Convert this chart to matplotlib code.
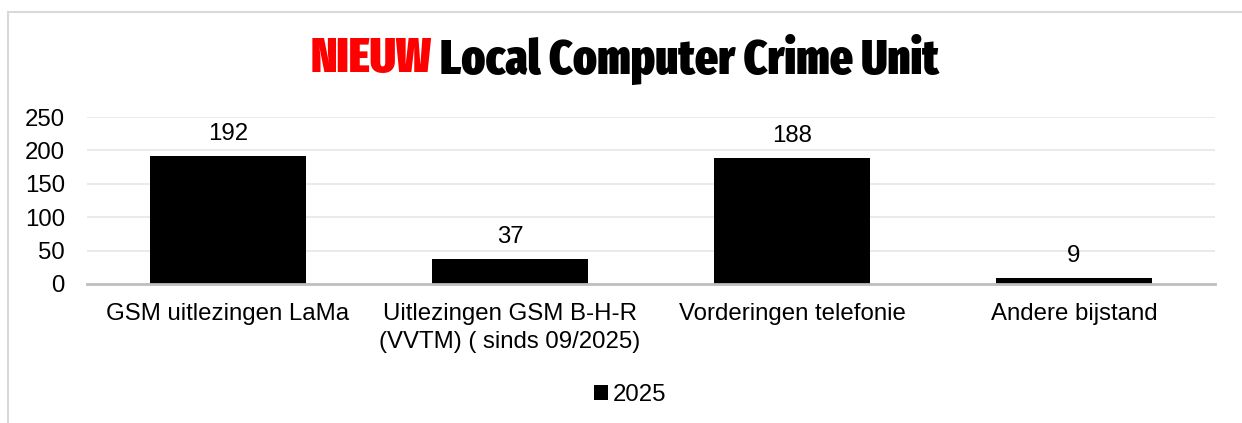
import matplotlib
matplotlib.use("Agg")
import matplotlib.pyplot as plt
from matplotlib.patches import Rectangle
from matplotlib import font_manager

categories = ["GSM uitlezingen LaMa", "Uitlezingen GSM B-H-R\n(VVTM) ( sinds 09/2025)",
              "Vorderingen telefonie", "Andere bijstand"]
values = [192, 37, 188, 9]
series_name = "2025"
yticks = [0, 50, 100, 150, 200, 250]

W, H = 1242, 423
fig = plt.figure(figsize=(W / 100, H / 100), dpi=100)
fig.patch.set_facecolor("white")

fig.add_artist(Rectangle((8 / W, -0.01), 1.5, (H - 12) / H + 0.01, transform=fig.transFigure,
                         fill=False, edgecolor="#d9d9d9", linewidth=1.5))

base = "Liberation Sans"
fs = 17.3
ax = fig.add_axes([87 / W, 1 - 284 / H, (1215 - 87) / W, (284 - 117) / H])
x = range(len(categories))
bars = ax.bar(x, values, width=0.555, color="black", label=series_name, zorder=3)
ax.set_xlim(-0.5, len(categories) - 0.5)
ax.set_ylim(0, 250)
ax.set_yticks(yticks)
ax.set_yticklabels([str(t) for t in yticks], fontsize=fs, family=base)
ax.set_xticks(list(x))
ax.set_xticklabels(categories, fontsize=fs, family=base, linespacing=1.3, va="top")
ax.tick_params(axis="both", length=0)
ax.tick_params(axis="x", pad=14)
ax.tick_params(axis="y", pad=16)
ax.grid(axis="y", color="#e6e6e6", linewidth=1.2, zorder=0)
for s in ["top", "right", "left"]:
    ax.spines[s].set_visible(False)
ax.spines["bottom"].set_color("#bfbfbf")
ax.spines["bottom"].set_linewidth(2)
ax.spines["bottom"].set_zorder(4)

for b, v in zip(bars, values):
    ax.annotate(str(v), (b.get_x() + b.get_width() / 2, v), xytext=(0, 8),
                textcoords="offset points", ha="center", va="bottom", fontsize=fs, family=base)

leg = fig.legend(handles=[bars], labels=[series_name], loc="center", bbox_to_anchor=(630 / W, 1 - 395 / H),
                 frameon=False, prop={"family": base, "size": fs},
                 handlelength=0.6, handleheight=0.6, handletextpad=0.2)

# pick a condensed heavy font for the title if one is installed
cands = []
for f in font_manager.fontManager.ttflist:
    nm = f.name
    st = str(f.stretch)
    w = f.weight if isinstance(f.weight, int) else 700
    fn = f.fname.split('/')[-1]
    if "italic" in fn.lower() or f.style != "normal":
        continue
    if ("condensed" in st or "narrow" in nm.lower() or "Condensed" in fn) and (w >= 700):
        score = 0 if fn == "FiraSansExtraCondensed-Black.ttf" else (1 if "Extra" in fn else 2)
        cands.append((score, -w, f.fname))
title_props = {"family": "DejaVu Sans", "weight": "bold"}
if cands:
    cands.sort()
    title_props = {"fname": cands[0][2]}
fp = font_manager.FontProperties(**title_props, size=35)

ty = 1 - 59 / H
fig.text(432 / W, ty, "NIEUW", color="red", fontproperties=fp, ha="right", va="center")
fig.text(440 / W, ty, "Local Computer Crime Unit", color="black", fontproperties=fp, ha="left", va="center")

fig.savefig("out.png", dpi=100, facecolor="white")
